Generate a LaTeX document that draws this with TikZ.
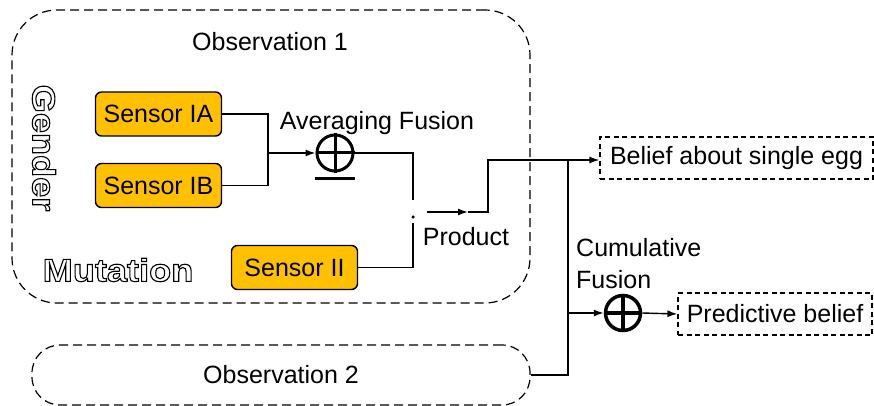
\documentclass[tikz,border=0pt]{standalone}
\usepackage{fontspec}
\setmainfont{Liberation Sans}
\newfontfamily\hollowfont[FakeStretch=1.13]{Liberation Sans Bold}
\usetikzlibrary{arrows.meta}
\definecolor{sensorfill}{HTML}{FFC000}
\newcommand{\hollowtext}[1]{\special{pdf:code q 1 Tr 1.1 w 0 G}#1\special{pdf:code Q}}
\begin{document}
\begin{tikzpicture}[x=1pt,y=-1pt,
  every node/.style={font=\fontsize{25}{32}\selectfont, inner sep=0pt},
  sensor/.style={draw=black, line width=1.4pt, fill=sensorfill, rounded corners=6pt, minimum width=126pt, minimum height=44pt},
  obsbox/.style={draw=black, line width=1.2pt, dash pattern=on 9pt off 5pt},
  outbox/.style={draw=black, line width=1.2pt, dash pattern=on 5pt off 3.5pt, minimum height=42pt},
  fuse/.style={draw=black, circle, line width=3pt},
  conn/.style={draw=black, line width=1.4pt},
  arr/.style={conn, -{Latex[length=10pt,width=7pt]}},
  hollow/.style={font=\hollowfont\fontsize{32}{32}\selectfont}
]
\useasboundingbox (0,0) rectangle (874,406);
% Observation boxes
\node[obsbox, rounded corners=45pt, minimum width=518pt, minimum height=293pt] (obs1) at (271,156.5) {};
\node (obs1t) at (270,42) {Observation 1};
\node[obsbox, rounded corners=28pt, minimum width=498pt, minimum height=60pt] (obs2) at (281,375) {Observation 2};
% hollow labels
\node[hollow, rotate=-90] (gender) at (44,148) {\hollowtext{Gender}};
\node[hollow] (mutation) at (118,270) {\hollowtext{Mutation}};
% sensors
\node[sensor] (sIA) at (158.5,114) {Sensor IA};
\node[sensor] (sIB) at (158.5,185.5) {Sensor IB};
\node[sensor] (sII) at (294.5,267.5) {Sensor II};
% averaging fusion
\node[fuse, minimum size=36pt] (avg) at (335,153) {};
\draw[line width=3pt] (avg.north) -- (avg.south) (avg.west) -- (avg.east);
\coordinate (barl) at (315,178);
\coordinate (barr) at (355,178);
\draw[line width=3pt] (barl) -- (barr);
\node (avgt) at (377,123) {Averaging Fusion};
% product
\node[circle, fill=black, minimum size=3.5pt] (dot) at (413,217) {};
\node (prodt) at (466,237) {Product};
% output boxes
\node[outbox, minimum width=273pt] (belief) at (736.5,158) {Belief about single egg};
\node[outbox, minimum width=194pt] (pred) at (775,314) {Predictive belief};
% cumulative fusion
\node[fuse, line width=3.5pt, minimum size=35pt] (cum) at (623,313) {};
\draw[line width=3.5pt] (cum.north) -- (cum.south) (cum.west) -- (cum.east);
\node[align=left, anchor=west] (cumt) at (576,264) {Cumulative\\Fusion};
% coordinates
\coordinate (j1) at (268,153);
\coordinate (a1) at (413,200);
\coordinate (a2) at (413,223);
\coordinate (p0) at (427,212);
\coordinate (p1) at (468,212);
\coordinate (p2) at (488,212);
\coordinate (p3) at (488,160);
\coordinate (j2) at (568,160);
\coordinate (j3) at (568,313);
\coordinate (j4) at (568,375);
% connectors
\draw[conn] (sIA.east) -| (j1);
\draw[conn] (sIB.east) -| (j1);
\draw[arr] (j1) -- (avg.west);
\draw[conn] (avg.east) -| (a1);
\draw[conn] (sII.east) -| (a2);
\draw[arr] (p0) -- (p1);
\draw[conn] (p1) -- (p2) -- (p3) -- (j2);
\draw[arr] (j2) -- (belief.west |- j2);
\draw[conn] (j2) -- (j4) -- (obs2.east);
\draw[arr] (j3) -- (cum.west);
\draw[arr] (cum.east) -- (pred.west);
\end{tikzpicture}
\end{document}
